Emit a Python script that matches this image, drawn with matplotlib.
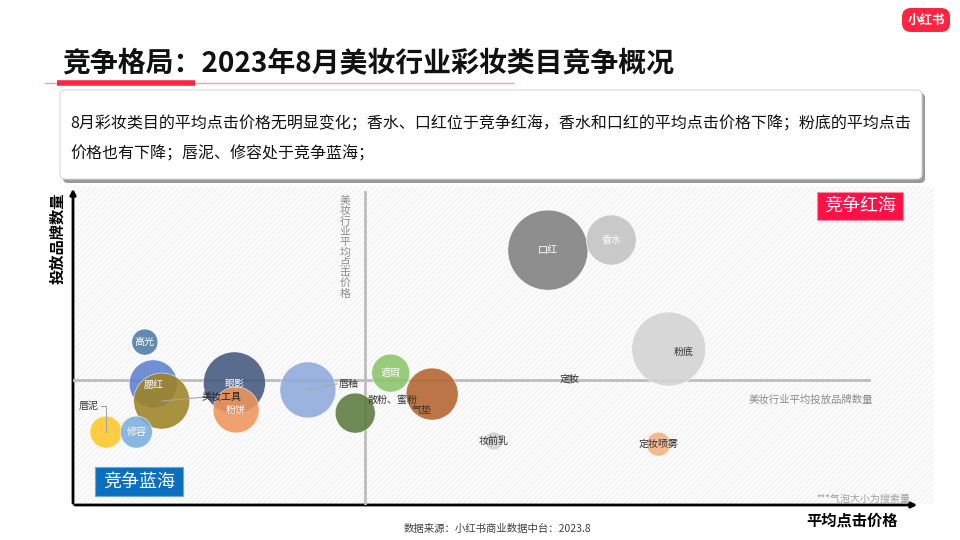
import matplotlib

matplotlib.use("Agg")

import matplotlib.pyplot as plt
from matplotlib.patches import FancyBboxPatch, Rectangle

plt.rcParams["font.family"] = ["Noto Sans CJK SC", "DejaVu Sans"]

# category data (x: avg click price index, y: brand count index, size: bubble radius ~ search volume)
categories = ["口红", "香水", "粉底", "定妆", "妆前乳", "定妆喷雾", "遮瑕", "气垫", "散粉、蜜粉",
              "唇釉", "眼影", "粉饼", "腮红", "美妆工具", "高光", "唇泥", "修容"]
avg_price = [56.2, 63.7, 70.5, 58.8, 49.8, 69.3, 37.6, 42.5, 33.4,
             27.8, 19.1, 19.3, 9.5, 10.5, 8.5, 3.9, 7.5]
brand_count = [80.4, 83.6, 49.2, 39.7, 20.2, 19.2, 41.6, 35.0, 29.0,
               36.3, 38.5, 30.0, 38.2, 32.8, 51.4, 23.0, 23.0]
bubble = [40, 25, 37, 5, 9, 12, 19, 26, 20, 28, 31, 23, 24, 28, 13, 16, 16]
mean_price = 34.6
mean_brands = 39.4

colors = ["#7F7F7F", "#C3C3C3", "#D3D3D3", "#A6A6A6", "#D0D0D0", "#F4B183", "#8CC56A", "#B4632D",
          "#5B7A3E", "#8EA9DB", "#44587F", "#F0955A", "#5E80CF", "#9E8425", "#4E7AA8", "#FFC729",
          "#7AAEE0"]
label_colors = ["white", "white", "#333333", "#333333", "#333333", "#333333", "white", "#333333",
                "#333333", "#333333", "white", "white", "white", "#222222", "white", "#333333",
                "white"]
# label offsets in screen pixels (dx right, dy down) relative to bubble centre
label_offsets = {"粉底": (15, 3), "气垫": (-10, 16), "散粉、蜜粉": (37, -13), "唇釉": (41, -6),
                 "美妆工具": (60, -4), "唇泥": (-17, -26), "腮红": (0, 1), "眼影": (0, 1)}
leaders = {"唇釉": [(0, 0), (29, -6)], "美妆工具": [(0, 0), (43, -4)],
           "唇泥": [(0, 0), (0, -26), (-5, -26)]}

fig = plt.figure(figsize=(9.6, 5.4), dpi=100)
fig.patch.set_facecolor("white")

# overlay in pixel coordinates for the slide decorations
bg = fig.add_axes([0, 0, 1, 1])
bg.set_xlim(0, 960)
bg.set_ylim(540, 0)
bg.axis("off")

# logo
bg.add_patch(FancyBboxPatch((902, 8), 48, 24, boxstyle="round,pad=0,rounding_size=9",
                            fc="#FF2442", ec="none"))
bg.text(926, 20, "小红书", color="white", fontsize=9, fontweight="bold", ha="center", va="center")

# title
bg.text(62, 64, "竞争格局：2023年8月美妆行业彩妆类目竞争概况", fontsize=20.1, fontweight="bold",
        ha="left", va="center", color="#111111")
bg.plot([45, 513], [83, 83], color="#F7A0A8", lw=1)
bg.plot([57, 195], [83, 83], color="#FF2442", lw=4, solid_capstyle="butt")

# summary box
bg.add_patch(FancyBboxPatch((63, 93), 862, 90, boxstyle="round,pad=0,rounding_size=5",
                            fc="#9A9A9A", ec="none"))
bg.add_patch(FancyBboxPatch((60, 90), 862, 89, boxstyle="round,pad=0,rounding_size=5",
                            fc="white", ec="#D8D8D8", lw=0.8))
bg.text(70, 124, "8月彩妆类目的平均点击价格无明显变化；香水、口红位于竞争红海，香水和口红的平均点击价格下降；粉底的平均点击",
        fontsize=11.5, ha="left", va="center", color="#111111")
bg.text(70, 154, "价格也有下降；唇泥、修容处于竞争蓝海；", fontsize=11.5, ha="left", va="center",
        color="#111111")

# faint hatched chart background
bg.add_patch(Rectangle((74, 186), 860, 318, fc="#FCFCFC", ec="#F3F3F3", hatch="//////", lw=0))

# axes arrows and labels
bg.annotate("", xy=(73, 186), xytext=(73, 506),
            arrowprops=dict(arrowstyle="-|>", lw=2, color="black", mutation_scale=8))
bg.annotate("", xy=(920, 505), xytext=(72, 505),
            arrowprops=dict(arrowstyle="-|>", lw=2, color="black", mutation_scale=8))
bg.text(57, 238, "投放品牌数量", rotation=90, fontsize=11, fontweight="bold", ha="center", va="center")
bg.text(852, 521, "平均点击价格", fontsize=11, fontweight="bold", ha="center", va="center")
bg.text(497, 529, "数据来源：小红书商业数据中台：2023.8", fontsize=7.5, ha="center", va="center",
        color="#404040")

# quadrant tags
bg.add_patch(Rectangle((817, 192), 86, 28, fc="#FF1046", ec="#FF8AA0", lw=0.8))
bg.text(860, 206, "竞争红海", color="white", fontsize=13, ha="center", va="center")
bg.add_patch(Rectangle((95, 467), 88, 29, fc="#0B6FBF", ec="#6FA8DC", lw=0.8))
bg.text(139, 482, "竞争蓝海", color="white", fontsize=13, ha="center", va="center")

# mean line captions
for i, ch in enumerate("美妆行业平均点击价格"):
    bg.text(345, 201 + i * 10.3, ch, fontsize=7.8, ha="center", va="center", color="#8C8C8C")
bg.text(811, 400, "美妆行业平均投放品牌数量", fontsize=7.5, ha="center", va="center", color="#8C8C8C")
bg.text(910, 499, "***气泡大小为搜索量", fontsize=7.2, ha="right", va="center", color="#A0A0A0",
        style="italic")

# bubble chart
ax = fig.add_axes([73 / 960, 35 / 540, 845 / 960, 317 / 540])
ax.set_xlim(0, 100)
ax.set_ylim(0, 100)
ax.patch.set_alpha(0)
ax.axis("off")

ax.plot([mean_price, mean_price], [0, 98.7], color="#BDBDBD", lw=2, zorder=1)
ax.plot([0, 94.2], [mean_brands, mean_brands], color="#BDBDBD", lw=2, zorder=1)

sizes = [(2 * r * 0.72) ** 2 for r in bubble]
ax.scatter(avg_price, brand_count, s=sizes, c=colors, alpha=0.88, edgecolors="white",
           linewidths=0.4, zorder=2)

px_x = 845 / 100  # pixels per data unit
px_y = 317 / 100
for name, x, y, lc in zip(categories, avg_price, brand_count, label_colors):
    dx, dy = label_offsets.get(name, (0, 0))
    ax.annotate(name, (x, y), xytext=(dx * 0.72, -dy * 0.72), textcoords="offset points",
                fontsize=7.2, color=lc, ha="center", va="center", zorder=4)
    if name in leaders:
        pts = leaders[name]
        ax.plot([x + p[0] / px_x for p in pts], [y - p[1] / px_y for p in pts],
                color="#A6A6A6", lw=0.8, zorder=3)

fig.savefig("out.png", dpi=100)
